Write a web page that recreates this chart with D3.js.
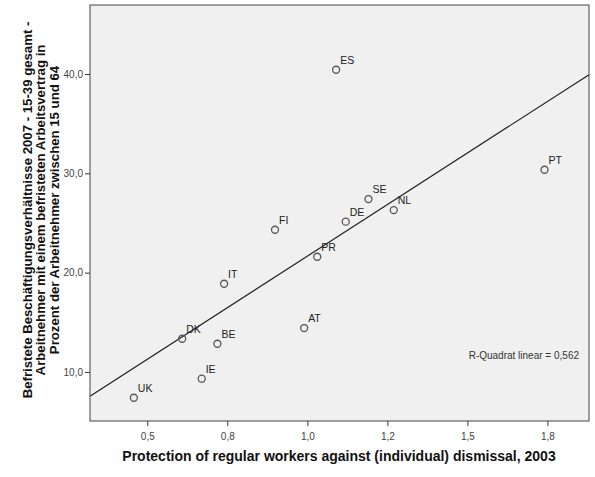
<!DOCTYPE html>
<html>
<head>
<meta charset="utf-8">
<script src="https://cdn.jsdelivr.net/npm/d3@7"></script>
<style>
  body { margin: 0; background: #fff; }
  svg { display: block; font-family: "Liberation Sans", Arial, sans-serif; }
</style>
</head>
<body>
<div id="chart"></div>
<script>
// Country codes and values.
const countries = ['ES', 'SE', 'NL', 'DE', 'FI', 'PR', 'IT', 'AT', 'DK', 'BE', 'IE', 'UK', 'PT'];
const protection = [1.09, 1.191, 1.27, 1.12, 0.899, 1.031, 0.74, 0.99, 0.609, 0.719, 0.67, 0.458, 1.741];
const temporaryShare = [40.43, 27.41, 26.3, 25.13, 24.32, 21.6, 18.88, 14.42, 13.34, 12.84, 9.32, 7.4, 30.36];

const xTickValues = [0.5, 0.75, 1.0, 1.25, 1.5, 1.75];
const xTickLabels = ['0,5', '0,8', '1,0', '1,2', '1,5', '1,8'];
const yTickValues = [10, 20, 30, 40];
const yTickLabels = ['10,0', '20,0', '30,0', '40,0'];

const xTitle = 'Protection of regular workers against (individual) dismissal, 2003';
const yTitleLines = [
  'Befristete Beschäftigungsverhältnisse 2007 - 15-39 gesamt -',
  'Arbeitnehmer mit einem befristeten Arbeitsvertrag in',
  'Prozent der Arbeitnehmer zwischen 15 und 64',
];
const r2Label = 'R-Quadrat linear = 0,562';

const width = 595;
const height = 477;
const plot = { left: 90, right: 589, top: 5, bottom: 421 };

const points = countries.map((c, i) => ({ code: c, x: protection[i], y: temporaryShare[i] }));

const x = d3.scaleLinear().domain([0.321, 1.88]).range([plot.left, plot.right]);
const y = d3.scaleLinear().domain([5.06, 46.95]).range([plot.bottom, plot.top]);

// least squares fit
const mx = d3.mean(points, (d) => d.x);
const my = d3.mean(points, (d) => d.y);
const sxy = d3.sum(points, (d) => (d.x - mx) * (d.y - my));
const sxx = d3.sum(points, (d) => (d.x - mx) ** 2);
const slope = sxy / sxx;
const intercept = my - slope * mx;

const svg = d3
  .select('#chart')
  .append('svg')
  .attr('width', width)
  .attr('height', height);

svg
  .append('rect')
  .attr('x', plot.left)
  .attr('y', plot.top)
  .attr('width', plot.right - plot.left)
  .attr('height', plot.bottom - plot.top)
  .attr('fill', '#f0f0f0');

svg.append('defs')
  .append('clipPath')
  .attr('id', 'clip')
  .append('rect')
  .attr('x', plot.left)
  .attr('y', plot.top)
  .attr('width', plot.right - plot.left)
  .attr('height', plot.bottom - plot.top);

// Axes.
const xAxis = svg
  .append('g')
  .attr('transform', `translate(0,${plot.bottom})`)
  .call(
    d3.axisBottom(x)
      .tickValues(xTickValues)
      .tickFormat((d, i) => xTickLabels[i])
      .tickSize(5)
      .tickPadding(7),
  );
xAxis.select('.domain').remove();

const yAxis = svg
  .append('g')
  .attr('transform', `translate(${plot.left},0)`)
  .call(
    d3.axisLeft(y)
      .tickValues(yTickValues)
      .tickFormat((d, i) => yTickLabels[i])
      .tickSize(5)
      .tickPadding(2),
  );
yAxis.select('.domain').remove();

svg.selectAll('.tick line').attr('stroke', '#333');
svg
  .selectAll('.tick text')
  .attr('fill', '#444')
  .attr('font-size', 10)
  .attr('font-family', '"Liberation Sans", Arial, sans-serif');

// Fit line.
const [x0, x1] = x.domain();
svg
  .append('line')
  .attr('clip-path', 'url(#clip)')
  .attr('x1', x(x0))
  .attr('y1', y(intercept + slope * x0))
  .attr('x2', x(x1))
  .attr('y2', y(intercept + slope * x1))
  .attr('stroke', '#222')
  .attr('stroke-width', 1.2);

// Points and labels.
const pt = svg.append('g').selectAll('g').data(points).join('g')
  .attr('transform', (d) => `translate(${x(d.x)},${y(d.y)})`);

pt.append('circle')
  .attr('r', 3.5)
  .attr('fill', 'none')
  .attr('stroke', '#555')
  .attr('stroke-width', 1.3);

pt.append('text')
  .attr('x', 4)
  .attr('y', -6)
  .attr('font-size', 10.5)
  .attr('fill', '#222')
  .text((d) => d.code);

svg
  .append('text')
  .attr('x', 579)
  .attr('y', 359)
  .attr('text-anchor', 'end')
  .attr('font-size', 10)
  .attr('fill', '#333')
  .text(r2Label);

// Frame.
svg
  .append('rect')
  .attr('x', plot.left)
  .attr('y', plot.top)
  .attr('width', plot.right - plot.left)
  .attr('height', plot.bottom - plot.top)
  .attr('fill', 'none')
  .attr('stroke', '#444')
  .attr('stroke-width', 1);

// Titles.
svg
  .append('text')
  .attr('x', 339)
  .attr('y', 461)
  .attr('text-anchor', 'middle')
  .attr('font-size', 14)
  .attr('font-weight', 'bold')
  .attr('fill', '#111')
  .text(xTitle);

const yt = svg
  .append('text')
  .attr('transform', 'translate(32,210) rotate(-90)')
  .attr('text-anchor', 'middle')
  .attr('font-size', 13.2)
  .attr('font-weight', 'bold')
  .attr('fill', '#111');

yt.selectAll('tspan')
  .data(yTitleLines)
  .join('tspan')
  .attr('x', 0)
  .attr('dy', (d, i) => (i === 0 ? 0 : 13.3))
  .text((d) => d);
</script>
</body>
</html>
